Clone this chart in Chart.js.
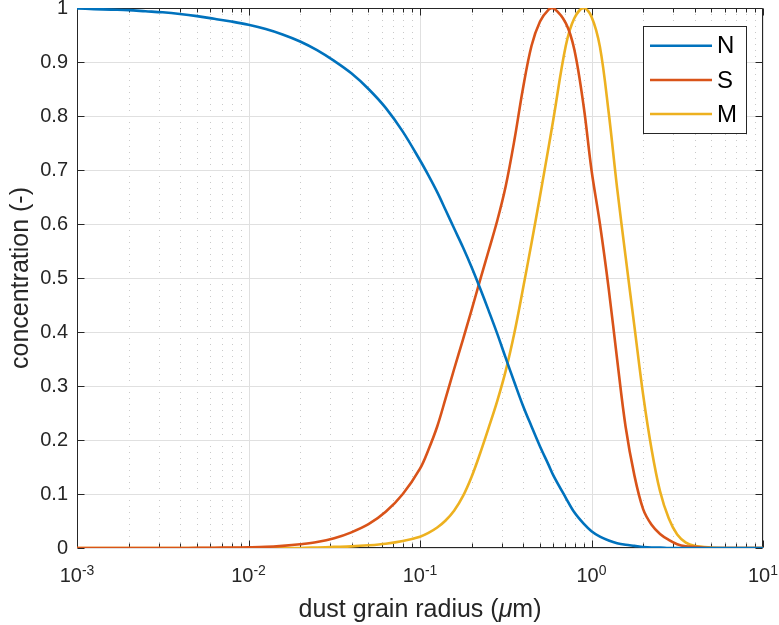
<!DOCTYPE html>
<html>
<head>
<meta charset="utf-8">
<script src="https://cdn.jsdelivr.net/npm/chart.js@4.4.0/dist/chart.umd.min.js"></script>
<style>
  html, body { margin: 0; padding: 0; background: #ffffff; }
  canvas { display: block; }
</style>
</head>
<body>
<canvas id="chart" width="779" height="625"></canvas>
<script>
// Dust grain radius (µm), log-spaced
const radius = [0.001,0.00126,0.00158,0.002,0.00251,0.00316,0.00398,0.00501,0.00631,0.00794,
  0.01,0.0126,0.0158,0.02,0.0251,0.0316,0.0398,0.0501,0.0631,0.0794,
  0.1,0.112,0.126,0.141,0.158,0.178,0.2,0.224,0.251,0.282,
  0.316,0.355,0.398,0.447,0.501,0.562,0.6,0.708,0.794,0.9,
  1,1.12,1.26,1.41,1.58,1.78,2,2.24,2.51,2.82,
  3.16,3.55,3.98,5.01,6.31,7.94,10];

// Concentrations for the three populations
const concN = [0.999,0.998,0.997,0.996,0.994,0.992,0.989,0.985,0.980,0.975,
  0.969,0.961,0.951,0.938,0.922,0.902,0.879,0.850,0.815,0.771,
  0.718,0.690,0.659,0.626,0.592,0.557,0.520,0.481,0.440,0.397,
  0.352,0.307,0.264,0.225,0.188,0.154,0.134,0.093,0.066,0.045,
  0.031,0.021,0.014,0.009,0.006,0.004,0.002,0.001,0.001,0,
  0,0,0,0,0,0,0];

const concS = [0,0,0,0,0,0,0,0.0003,0.0005,0.0008,
  0.0012,0.002,0.004,0.007,0.011,0.018,0.029,0.044,0.067,0.100,
  0.147,0.182,0.225,0.277,0.331,0.386,0.441,0.496,0.550,0.606,
  0.670,0.755,0.850,0.930,0.975,0.997,1.000,0.972,0.923,0.818,
  0.700,0.600,0.480,0.350,0.225,0.134,0.072,0.043,0.026,0.015,
  0.007,0.003,0.002,0,0,0,0];

const concM = [0,0,0,0,0,0,0,0,0,0,
  0,0,0,0,0.001,0.002,0.003,0.005,0.008,0.013,
  0.021,0.028,0.038,0.051,0.069,0.096,0.132,0.175,0.222,0.272,
  0.328,0.398,0.479,0.565,0.652,0.742,0.795,0.930,0.981,1.000,
  0.984,0.928,0.806,0.667,0.540,0.410,0.284,0.183,0.105,0.055,
  0.025,0.010,0.004,0.001,0,0,0];

const seriesNames = ['N', 'S', 'M'];
const seriesColors = ['#0072BD', '#D95319', '#EDB120'];

const yTicks = [0, 0.1, 0.2, 0.3, 0.4, 0.5, 0.6, 0.7, 0.8, 0.9, 1];
const yTickLabels = ['0', '0.1', '0.2', '0.3', '0.4', '0.5', '0.6', '0.7', '0.8', '0.9', '1'];
const xDecades = [0.001, 0.01, 0.1, 1, 10];
const xDecadeExponents = ['-3', '-2', '-1', '0', '1'];

const yTitle = 'concentration (-)';
const xTitleParts = [['dust grain radius (', false], ['\u03BC', true], ['m)', false]];

const FONT = '"Liberation Sans", Arial, Helvetica, sans-serif';
const AXIS_COLOR = '#262626';

function toPoints(values) {
  return radius.map((r, i) => ({ x: r, y: values[i] }));
}

// Grid, box and tick marks in the MATLAB style
const axesFrame = {
  id: 'axesFrame',
  beforeDatasetsDraw(chart) {
    const { ctx, chartArea: a, scales: { x, y } } = chart;
    ctx.save();
    ctx.lineWidth = 1;

    // minor vertical grid (dotted)
    ctx.strokeStyle = '#c9c9c9';
    ctx.setLineDash([1, 5]);
    for (let d = 0; d < xDecades.length - 1; d++) {
      for (let m = 2; m <= 9; m++) {
        const px = Math.round(x.getPixelForValue(xDecades[d] * m)) + 0.5;
        ctx.beginPath();
        ctx.moveTo(px, a.top);
        ctx.lineTo(px, a.bottom);
        ctx.stroke();
      }
    }
    ctx.setLineDash([]);

    // major grid
    ctx.strokeStyle = '#e0e0e0';
    xDecades.forEach(v => {
      const px = Math.round(x.getPixelForValue(v)) + 0.5;
      ctx.beginPath();
      ctx.moveTo(px, a.top);
      ctx.lineTo(px, a.bottom);
      ctx.stroke();
    });
    yTicks.forEach(v => {
      const py = Math.round(y.getPixelForValue(v)) + 0.5;
      ctx.beginPath();
      ctx.moveTo(a.left, py);
      ctx.lineTo(a.right, py);
      ctx.stroke();
    });

    // tick marks, pointing inwards on all four sides
    ctx.strokeStyle = AXIS_COLOR;
    const major = 7, minor = 4;
    const L = a.left + 0.5, R = a.right - 0.5, T = a.top + 0.5, B = a.bottom - 0.5;
    yTicks.forEach(v => {
      const py = Math.round(y.getPixelForValue(v)) + 0.5;
      ctx.beginPath();
      ctx.moveTo(L, py); ctx.lineTo(L + major, py);
      ctx.moveTo(R, py); ctx.lineTo(R - major, py);
      ctx.stroke();
    });
    for (let d = 0; d < xDecades.length; d++) {
      const px = Math.round(x.getPixelForValue(xDecades[d])) + 0.5;
      ctx.beginPath();
      ctx.moveTo(px, B); ctx.lineTo(px, B - major);
      ctx.moveTo(px, T); ctx.lineTo(px, T + major);
      ctx.stroke();
      if (d === xDecades.length - 1) break;
      for (let m = 2; m <= 9; m++) {
        const qx = Math.round(x.getPixelForValue(xDecades[d] * m)) + 0.5;
        ctx.beginPath();
        ctx.moveTo(qx, B); ctx.lineTo(qx, B - minor);
        ctx.moveTo(qx, T); ctx.lineTo(qx, T + minor);
        ctx.stroke();
      }
    }

    // axes box
    ctx.beginPath();
    ctx.rect(L, T, R - L, B - T);
    ctx.stroke();
    ctx.restore();
  },
  afterDraw(chart) {
    const { ctx, chartArea: a, scales: { x } } = chart;
    ctx.save();
    ctx.fillStyle = AXIS_COLOR;
    ctx.textBaseline = 'alphabetic';

    // decade labels 10^n
    xDecades.forEach((v, i) => {
      const px = x.getPixelForValue(v);
      ctx.font = '20px ' + FONT;
      const wBase = ctx.measureText('10').width;
      ctx.font = '14px ' + FONT;
      const wExp = ctx.measureText(xDecadeExponents[i]).width;
      const start = px - (wBase + wExp) / 2;
      ctx.font = '20px ' + FONT;
      ctx.textAlign = 'left';
      ctx.fillText('10', start, 582);
      ctx.font = '14px ' + FONT;
      ctx.fillText(xDecadeExponents[i], start + wBase, 575);
    });

    // x axis title with italic mu
    let total = 0;
    const size = 25;
    xTitleParts.forEach(([t, it]) => {
      ctx.font = (it ? 'italic ' : '') + size + 'px ' + FONT;
      total += ctx.measureText(t).width;
    });
    let cx = (a.left + a.right) / 2 - total / 2;
    xTitleParts.forEach(([t, it]) => {
      ctx.font = (it ? 'italic ' : '') + size + 'px ' + FONT;
      ctx.fillText(t, cx, 617);
      cx += ctx.measureText(t).width;
    });

    // y axis title
    ctx.save();
    ctx.translate(28, (a.top + a.bottom) / 2);
    ctx.rotate(-Math.PI / 2);
    ctx.textAlign = 'center';
    ctx.font = size + 'px ' + FONT;
    ctx.fillText(yTitle, 0, 0);
    ctx.restore();

    // legend box
    const bx = 643.5, by = 26.5, bw = 103, bh = 107;
    ctx.fillStyle = '#ffffff';
    ctx.fillRect(bx, by, bw, bh);
    ctx.strokeStyle = AXIS_COLOR;
    ctx.lineWidth = 1;
    ctx.strokeRect(bx, by, bw, bh);
    const rows = [45.7, 80, 114];
    chart.data.datasets.forEach((ds, i) => {
      ctx.strokeStyle = ds.borderColor;
      ctx.lineWidth = 2.6;
      ctx.beginPath();
      ctx.moveTo(650, rows[i]);
      ctx.lineTo(712, rows[i]);
      ctx.stroke();
      ctx.fillStyle = '#000000';
      ctx.font = '24px ' + FONT;
      ctx.textAlign = 'left';
      ctx.textBaseline = 'middle';
      ctx.fillText(ds.label, 717, rows[i] + 1);
    });
    ctx.restore();
  }
};

const datasets = [concN, concS, concM].map((vals, i) => ({
  label: seriesNames[i],
  data: toPoints(vals),
  borderColor: seriesColors[i],
  backgroundColor: seriesColors[i],
  borderWidth: 2.6,
  pointRadius: 0,
  fill: false,
  tension: 0.35
}));

new Chart(document.getElementById('chart'), {
  type: 'line',
  data: { datasets },
  options: {
    responsive: false,
    animation: false,
    devicePixelRatio: 1,
    layout: { padding: { left: 0, right: 16, top: 8, bottom: 0 } },
    plugins: { legend: { display: false }, tooltip: { enabled: false } },
    scales: {
      x: {
        type: 'logarithmic',
        min: 0.001,
        max: 10,
        grid: { display: false, drawTicks: false },
        border: { display: false },
        ticks: { display: false },
        afterFit(scale) {
          scale.height = 77;
          scale.paddingLeft = 0;
          scale.paddingRight = 0;
        }
      },
      y: {
        type: 'linear',
        min: 0,
        max: 1,
        grid: { display: false, drawTicks: false },
        border: { display: false },
        afterBuildTicks(scale) { scale.ticks = yTicks.map(v => ({ value: v })); },
        ticks: {
          padding: 9,
          color: AXIS_COLOR,
          font: { family: FONT, size: 20 },
          callback: (value, index) => yTickLabels[index]
        },
        afterFit(scale) {
          scale.width = 77;
          scale.paddingTop = 0;
          scale.paddingBottom = 0;
        }
      }
    }
  },
  plugins: [axesFrame]
});
</script>
</body>
</html>
